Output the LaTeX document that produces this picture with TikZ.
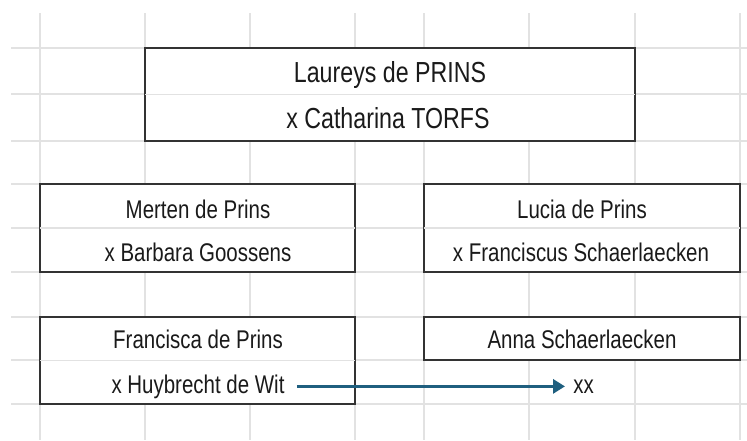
\documentclass[tikz,border=0pt]{standalone}
\usepackage{fontspec}
\newfontfamily\narrowfont{Liberation Sans}[FakeStretch=0.8]
\usetikzlibrary{arrows.meta}
\definecolor{gridgray}{HTML}{E2E2E2}
\definecolor{boxline}{HTML}{333333}
\definecolor{inkblack}{HTML}{1A1A1A}
\definecolor{linkblue}{HTML}{1F5F7F}

\begin{document}
\begin{tikzpicture}[x=0.5pt, y=-0.5pt,
    gridline/.style={gridgray, line width=0.6pt},
    personbox/.style={draw=boxline, fill=white, line width=0.8pt, inner sep=0pt},
    rowline/.style={gridgray, line width=0.6pt, shorten <=0.4pt, shorten >=0.4pt},
    headname/.style={font=\narrowfont\fontsize{14.5}{17}\selectfont, text=inkblack, anchor=base, inner sep=0pt},
    pname/.style={font=\narrowfont\fontsize{12.8}{15}\selectfont, text=inkblack, anchor=base, inner sep=0pt},
    linkarrow/.style={linkblue, line width=1.5pt, -{Triangle[length=6pt, width=7pt]}, shorten <=6pt, shorten >=4pt}]
    \useasboundingbox (0,0) rectangle (747,440);
    % sheet grid
    \foreach \x in {40,145,250,355,424,529,635,740}
        \draw[gridline] (\x,13) -- (\x,440);
    \foreach \y in {48,94,141,184,228,272,317,360,404}
        \draw[gridline] (11,\y) -- (747,\y);
    % merged cells
    \node[personbox, minimum width=245pt, minimum height=46.5pt] (laureys) at (390,94.5) {};
    \node[personbox, minimum width=157.5pt, minimum height=44pt] (merten) at (197.5,228) {};
    \node[personbox, minimum width=158pt, minimum height=44pt] (lucia) at (582,228) {};
    \node[personbox, minimum width=157.5pt, minimum height=43.5pt] (francisca) at (197.5,360.5) {};
    \node[personbox, minimum width=158pt, minimum height=21.5pt] (anna) at (582,338.5) {};
    \foreach \b in {laureys,merten,lucia,francisca}
        \draw[rowline] (\b.west) -- (\b.east);
    % names
    \node[headname] (laureys1) at (390,82) {Laureys de PRINS};
    \node[headname] (laureys2) at (388,128) {x Catharina TORFS};
    \node[pname] (merten1) at (198,218) {Merten de Prins};
    \node[pname] (merten2) at (198,261) {x Barbara Goossens};
    \node[pname] (lucia1) at (582,218) {Lucia de Prins};
    \node[pname] (lucia2) at (581,261) {x Franciscus Schaerlaecken};
    \node[pname] (francisca1) at (198,348) {Francisca de Prins};
    \node[pname] (francisca2) at (198,393) {x Huybrecht de Wit};
    \node[pname] (anna1) at (582,348) {Anna Schaerlaecken};
    \node[pname, anchor=base west] (xx) at (573,393) {xx};
    \draw[linkarrow] (francisca2.east) -- (francisca2.east -| xx.west);
\end{tikzpicture}
\end{document}
